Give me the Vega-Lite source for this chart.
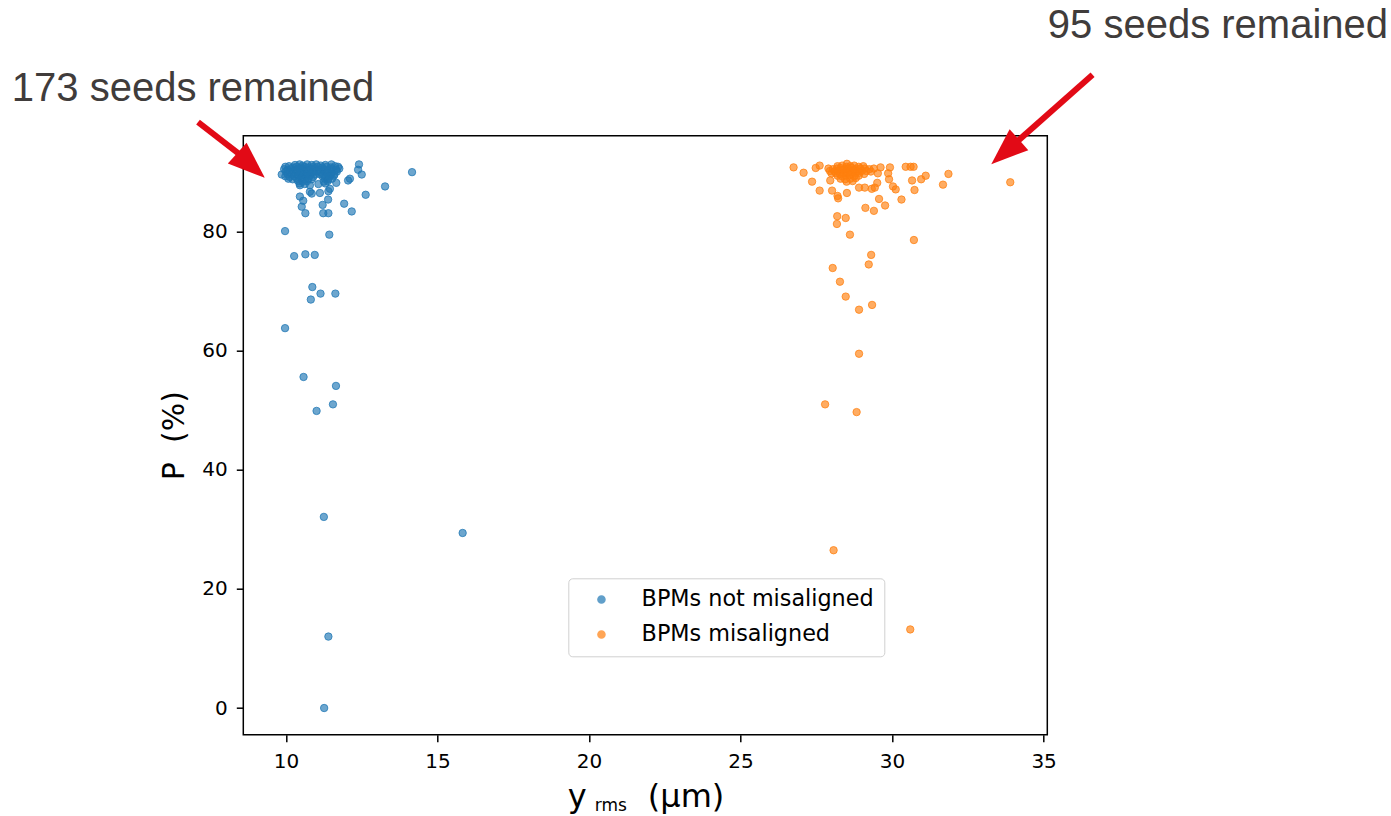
{
  "$schema": "https://vega.github.io/schema/vega-lite/v6.json",
  "width": 804,
  "height": 599,
  "autosize": {"type": "none"},
  "padding": {"left": 243.3, "top": 135.7, "right": 343.7, "bottom": 81.3},
  "background": "white",
  "config": {
    "view": {"stroke": "black", "strokeWidth": 1.5},
    "font": "DejaVu Sans",
    "axis": {
      "grid": false,
      "domain": false,
      "tickColor": "black",
      "tickWidth": 1.5,
      "tickSize": 7,
      "labelColor": "black",
      "labelFont": "DejaVu Sans",
      "labelFontSize": 20,
      "titleColor": "black",
      "titleFont": "DejaVu Sans",
      "titleFontWeight": "normal"
    }
  },
  "data": {"values": [{}]},
  "datasets": {
    "pts": [
      {"yrms": 9.97, "P": 80.1, "series": "BPMs not misaligned"},
      {"yrms": 11.43, "P": 79.5, "series": "BPMs not misaligned"},
      {"yrms": 10.27, "P": 75.9, "series": "BPMs not misaligned"},
      {"yrms": 10.64, "P": 76.2, "series": "BPMs not misaligned"},
      {"yrms": 10.95, "P": 76.1, "series": "BPMs not misaligned"},
      {"yrms": 10.87, "P": 70.7, "series": "BPMs not misaligned"},
      {"yrms": 11.14, "P": 69.6, "series": "BPMs not misaligned"},
      {"yrms": 11.63, "P": 69.6, "series": "BPMs not misaligned"},
      {"yrms": 10.82, "P": 68.6, "series": "BPMs not misaligned"},
      {"yrms": 9.97, "P": 63.8, "series": "BPMs not misaligned"},
      {"yrms": 10.58, "P": 55.6, "series": "BPMs not misaligned"},
      {"yrms": 11.65, "P": 54.1, "series": "BPMs not misaligned"},
      {"yrms": 11.55, "P": 51.0, "series": "BPMs not misaligned"},
      {"yrms": 11.01, "P": 49.9, "series": "BPMs not misaligned"},
      {"yrms": 11.25, "P": 32.1, "series": "BPMs not misaligned"},
      {"yrms": 15.83, "P": 29.4, "series": "BPMs not misaligned"},
      {"yrms": 11.40, "P": 12.0, "series": "BPMs not misaligned"},
      {"yrms": 11.26, "P": 0.0, "series": "BPMs not misaligned"},
      {"yrms": 9.86, "P": 89.6, "series": "BPMs not misaligned"},
      {"yrms": 12.41, "P": 91.3, "series": "BPMs not misaligned"},
      {"yrms": 12.38, "P": 90.4, "series": "BPMs not misaligned"},
      {"yrms": 12.50, "P": 89.6, "series": "BPMs not misaligned"},
      {"yrms": 14.16, "P": 90.0, "series": "BPMs not misaligned"},
      {"yrms": 12.11, "P": 88.9, "series": "BPMs not misaligned"},
      {"yrms": 12.05, "P": 88.6, "series": "BPMs not misaligned"},
      {"yrms": 13.27, "P": 87.6, "series": "BPMs not misaligned"},
      {"yrms": 12.63, "P": 86.2, "series": "BPMs not misaligned"},
      {"yrms": 11.66, "P": 88.2, "series": "BPMs not misaligned"},
      {"yrms": 11.92, "P": 84.7, "series": "BPMs not misaligned"},
      {"yrms": 12.17, "P": 83.4, "series": "BPMs not misaligned"},
      {"yrms": 11.39, "P": 85.4, "series": "BPMs not misaligned"},
      {"yrms": 11.40, "P": 83.1, "series": "BPMs not misaligned"},
      {"yrms": 11.23, "P": 83.1, "series": "BPMs not misaligned"},
      {"yrms": 11.21, "P": 84.5, "series": "BPMs not misaligned"},
      {"yrms": 10.64, "P": 83.1, "series": "BPMs not misaligned"},
      {"yrms": 10.52, "P": 84.2, "series": "BPMs not misaligned"},
      {"yrms": 10.57, "P": 85.2, "series": "BPMs not misaligned"},
      {"yrms": 10.46, "P": 85.9, "series": "BPMs not misaligned"},
      {"yrms": 10.79, "P": 86.7, "series": "BPMs not misaligned"},
      {"yrms": 10.85, "P": 86.4, "series": "BPMs not misaligned"},
      {"yrms": 11.12, "P": 86.5, "series": "BPMs not misaligned"},
      {"yrms": 11.07, "P": 88.0, "series": "BPMs not misaligned"},
      {"yrms": 11.40, "P": 86.8, "series": "BPMs not misaligned"},
      {"yrms": 11.45, "P": 87.2, "series": "BPMs not misaligned"},
      {"yrms": 10.46, "P": 87.8, "series": "BPMs not misaligned"},
      {"yrms": 10.79, "P": 87.8, "series": "BPMs not misaligned"},
      {"yrms": 10.30, "P": 91.2, "series": "BPMs not misaligned"},
      {"yrms": 10.45, "P": 91.3, "series": "BPMs not misaligned"},
      {"yrms": 10.55, "P": 91.1, "series": "BPMs not misaligned"},
      {"yrms": 10.70, "P": 91.3, "series": "BPMs not misaligned"},
      {"yrms": 10.85, "P": 91.2, "series": "BPMs not misaligned"},
      {"yrms": 11.00, "P": 91.3, "series": "BPMs not misaligned"},
      {"yrms": 11.15, "P": 91.1, "series": "BPMs not misaligned"},
      {"yrms": 11.30, "P": 91.2, "series": "BPMs not misaligned"},
      {"yrms": 11.50, "P": 91.3, "series": "BPMs not misaligned"},
      {"yrms": 9.98, "P": 90.9, "series": "BPMs not misaligned"},
      {"yrms": 10.10, "P": 91.0, "series": "BPMs not misaligned"},
      {"yrms": 10.22, "P": 90.8, "series": "BPMs not misaligned"},
      {"yrms": 10.35, "P": 90.9, "series": "BPMs not misaligned"},
      {"yrms": 10.50, "P": 90.8, "series": "BPMs not misaligned"},
      {"yrms": 10.62, "P": 90.9, "series": "BPMs not misaligned"},
      {"yrms": 10.75, "P": 90.8, "series": "BPMs not misaligned"},
      {"yrms": 10.90, "P": 90.9, "series": "BPMs not misaligned"},
      {"yrms": 11.05, "P": 90.9, "series": "BPMs not misaligned"},
      {"yrms": 11.20, "P": 90.8, "series": "BPMs not misaligned"},
      {"yrms": 11.35, "P": 90.9, "series": "BPMs not misaligned"},
      {"yrms": 11.48, "P": 90.8, "series": "BPMs not misaligned"},
      {"yrms": 11.62, "P": 91.0, "series": "BPMs not misaligned"},
      {"yrms": 11.72, "P": 90.9, "series": "BPMs not misaligned"},
      {"yrms": 9.94, "P": 90.5, "series": "BPMs not misaligned"},
      {"yrms": 10.05, "P": 90.4, "series": "BPMs not misaligned"},
      {"yrms": 10.18, "P": 90.5, "series": "BPMs not misaligned"},
      {"yrms": 10.30, "P": 90.4, "series": "BPMs not misaligned"},
      {"yrms": 10.42, "P": 90.6, "series": "BPMs not misaligned"},
      {"yrms": 10.55, "P": 90.5, "series": "BPMs not misaligned"},
      {"yrms": 10.68, "P": 90.4, "series": "BPMs not misaligned"},
      {"yrms": 10.80, "P": 90.5, "series": "BPMs not misaligned"},
      {"yrms": 10.95, "P": 90.6, "series": "BPMs not misaligned"},
      {"yrms": 11.08, "P": 90.4, "series": "BPMs not misaligned"},
      {"yrms": 11.22, "P": 90.5, "series": "BPMs not misaligned"},
      {"yrms": 11.36, "P": 90.4, "series": "BPMs not misaligned"},
      {"yrms": 11.50, "P": 90.5, "series": "BPMs not misaligned"},
      {"yrms": 11.66, "P": 90.4, "series": "BPMs not misaligned"},
      {"yrms": 11.76, "P": 90.6, "series": "BPMs not misaligned"},
      {"yrms": 10.00, "P": 90.1, "series": "BPMs not misaligned"},
      {"yrms": 10.12, "P": 90.0, "series": "BPMs not misaligned"},
      {"yrms": 10.25, "P": 90.1, "series": "BPMs not misaligned"},
      {"yrms": 10.38, "P": 90.2, "series": "BPMs not misaligned"},
      {"yrms": 10.50, "P": 90.0, "series": "BPMs not misaligned"},
      {"yrms": 10.62, "P": 90.1, "series": "BPMs not misaligned"},
      {"yrms": 10.75, "P": 90.2, "series": "BPMs not misaligned"},
      {"yrms": 10.88, "P": 90.0, "series": "BPMs not misaligned"},
      {"yrms": 11.00, "P": 90.1, "series": "BPMs not misaligned"},
      {"yrms": 11.12, "P": 90.0, "series": "BPMs not misaligned"},
      {"yrms": 11.25, "P": 90.2, "series": "BPMs not misaligned"},
      {"yrms": 11.38, "P": 90.1, "series": "BPMs not misaligned"},
      {"yrms": 11.52, "P": 90.0, "series": "BPMs not misaligned"},
      {"yrms": 11.68, "P": 90.1, "series": "BPMs not misaligned"},
      {"yrms": 10.05, "P": 89.7, "series": "BPMs not misaligned"},
      {"yrms": 10.20, "P": 89.6, "series": "BPMs not misaligned"},
      {"yrms": 10.33, "P": 89.7, "series": "BPMs not misaligned"},
      {"yrms": 10.45, "P": 89.8, "series": "BPMs not misaligned"},
      {"yrms": 10.58, "P": 89.6, "series": "BPMs not misaligned"},
      {"yrms": 10.70, "P": 89.7, "series": "BPMs not misaligned"},
      {"yrms": 10.82, "P": 89.8, "series": "BPMs not misaligned"},
      {"yrms": 10.95, "P": 89.6, "series": "BPMs not misaligned"},
      {"yrms": 11.10, "P": 89.7, "series": "BPMs not misaligned"},
      {"yrms": 11.22, "P": 89.6, "series": "BPMs not misaligned"},
      {"yrms": 11.35, "P": 89.8, "series": "BPMs not misaligned"},
      {"yrms": 11.48, "P": 89.7, "series": "BPMs not misaligned"},
      {"yrms": 11.60, "P": 89.6, "series": "BPMs not misaligned"},
      {"yrms": 9.98, "P": 89.3, "series": "BPMs not misaligned"},
      {"yrms": 10.12, "P": 89.2, "series": "BPMs not misaligned"},
      {"yrms": 10.28, "P": 89.3, "series": "BPMs not misaligned"},
      {"yrms": 10.40, "P": 89.4, "series": "BPMs not misaligned"},
      {"yrms": 10.52, "P": 89.2, "series": "BPMs not misaligned"},
      {"yrms": 10.65, "P": 89.3, "series": "BPMs not misaligned"},
      {"yrms": 10.78, "P": 89.4, "series": "BPMs not misaligned"},
      {"yrms": 10.90, "P": 89.2, "series": "BPMs not misaligned"},
      {"yrms": 11.20, "P": 89.3, "series": "BPMs not misaligned"},
      {"yrms": 11.32, "P": 89.2, "series": "BPMs not misaligned"},
      {"yrms": 11.45, "P": 89.3, "series": "BPMs not misaligned"},
      {"yrms": 11.58, "P": 89.4, "series": "BPMs not misaligned"},
      {"yrms": 10.08, "P": 88.9, "series": "BPMs not misaligned"},
      {"yrms": 10.22, "P": 88.8, "series": "BPMs not misaligned"},
      {"yrms": 10.36, "P": 88.9, "series": "BPMs not misaligned"},
      {"yrms": 10.50, "P": 89.0, "series": "BPMs not misaligned"},
      {"yrms": 10.62, "P": 88.8, "series": "BPMs not misaligned"},
      {"yrms": 10.74, "P": 88.9, "series": "BPMs not misaligned"},
      {"yrms": 10.85, "P": 88.8, "series": "BPMs not misaligned"},
      {"yrms": 11.28, "P": 88.9, "series": "BPMs not misaligned"},
      {"yrms": 11.40, "P": 88.8, "series": "BPMs not misaligned"},
      {"yrms": 11.52, "P": 88.9, "series": "BPMs not misaligned"},
      {"yrms": 10.40, "P": 88.5, "series": "BPMs not misaligned"},
      {"yrms": 10.55, "P": 88.4, "series": "BPMs not misaligned"},
      {"yrms": 10.70, "P": 88.5, "series": "BPMs not misaligned"},
      {"yrms": 11.25, "P": 88.4, "series": "BPMs not misaligned"},
      {"yrms": 11.38, "P": 88.5, "series": "BPMs not misaligned"},
      {"yrms": 10.45, "P": 88.1, "series": "BPMs not misaligned"},
      {"yrms": 10.62, "P": 88.0, "series": "BPMs not misaligned"},
      {"yrms": 11.30, "P": 88.1, "series": "BPMs not misaligned"},

      {"yrms": 26.75, "P": 90.8, "series": "BPMs misaligned"},
      {"yrms": 27.08, "P": 89.9, "series": "BPMs misaligned"},
      {"yrms": 27.36, "P": 88.4, "series": "BPMs misaligned"},
      {"yrms": 27.61, "P": 86.9, "series": "BPMs misaligned"},
      {"yrms": 27.48, "P": 90.7, "series": "BPMs misaligned"},
      {"yrms": 27.61, "P": 91.1, "series": "BPMs misaligned"},
      {"yrms": 28.02, "P": 86.9, "series": "BPMs misaligned"},
      {"yrms": 28.20, "P": 86.0, "series": "BPMs misaligned"},
      {"yrms": 28.22, "P": 85.6, "series": "BPMs misaligned"},
      {"yrms": 28.51, "P": 86.5, "series": "BPMs misaligned"},
      {"yrms": 27.96, "P": 88.6, "series": "BPMs misaligned"},
      {"yrms": 28.00, "P": 89.8, "series": "BPMs misaligned"},
      {"yrms": 28.51, "P": 91.4, "series": "BPMs misaligned"},
      {"yrms": 28.91, "P": 87.4, "series": "BPMs misaligned"},
      {"yrms": 29.10, "P": 87.4, "series": "BPMs misaligned"},
      {"yrms": 29.33, "P": 87.2, "series": "BPMs misaligned"},
      {"yrms": 29.43, "P": 87.4, "series": "BPMs misaligned"},
      {"yrms": 29.51, "P": 88.2, "series": "BPMs misaligned"},
      {"yrms": 29.57, "P": 85.5, "series": "BPMs misaligned"},
      {"yrms": 29.77, "P": 84.4, "series": "BPMs misaligned"},
      {"yrms": 29.12, "P": 84.0, "series": "BPMs misaligned"},
      {"yrms": 29.40, "P": 83.5, "series": "BPMs misaligned"},
      {"yrms": 30.31, "P": 85.4, "series": "BPMs misaligned"},
      {"yrms": 29.53, "P": 89.8, "series": "BPMs misaligned"},
      {"yrms": 29.62, "P": 90.8, "series": "BPMs misaligned"},
      {"yrms": 29.93, "P": 90.8, "series": "BPMs misaligned"},
      {"yrms": 29.87, "P": 89.8, "series": "BPMs misaligned"},
      {"yrms": 29.90, "P": 88.8, "series": "BPMs misaligned"},
      {"yrms": 30.03, "P": 87.6, "series": "BPMs misaligned"},
      {"yrms": 30.12, "P": 87.1, "series": "BPMs misaligned"},
      {"yrms": 30.45, "P": 90.9, "series": "BPMs misaligned"},
      {"yrms": 30.61, "P": 90.9, "series": "BPMs misaligned"},
      {"yrms": 30.71, "P": 90.9, "series": "BPMs misaligned"},
      {"yrms": 30.66, "P": 88.6, "series": "BPMs misaligned"},
      {"yrms": 30.74, "P": 87.0, "series": "BPMs misaligned"},
      {"yrms": 30.96, "P": 88.8, "series": "BPMs misaligned"},
      {"yrms": 31.11, "P": 89.4, "series": "BPMs misaligned"},
      {"yrms": 31.68, "P": 87.9, "series": "BPMs misaligned"},
      {"yrms": 31.86, "P": 89.7, "series": "BPMs misaligned"},
      {"yrms": 33.90, "P": 88.3, "series": "BPMs misaligned"},
      {"yrms": 28.19, "P": 82.6, "series": "BPMs misaligned"},
      {"yrms": 28.47, "P": 82.3, "series": "BPMs misaligned"},
      {"yrms": 28.18, "P": 81.3, "series": "BPMs misaligned"},
      {"yrms": 28.61, "P": 79.5, "series": "BPMs misaligned"},
      {"yrms": 30.72, "P": 78.6, "series": "BPMs misaligned"},
      {"yrms": 29.31, "P": 76.1, "series": "BPMs misaligned"},
      {"yrms": 29.23, "P": 74.5, "series": "BPMs misaligned"},
      {"yrms": 28.04, "P": 73.9, "series": "BPMs misaligned"},
      {"yrms": 28.28, "P": 71.6, "series": "BPMs misaligned"},
      {"yrms": 28.47, "P": 69.1, "series": "BPMs misaligned"},
      {"yrms": 29.34, "P": 67.7, "series": "BPMs misaligned"},
      {"yrms": 28.91, "P": 66.9, "series": "BPMs misaligned"},
      {"yrms": 28.91, "P": 59.5, "series": "BPMs misaligned"},
      {"yrms": 27.79, "P": 51.0, "series": "BPMs misaligned"},
      {"yrms": 28.83, "P": 49.7, "series": "BPMs misaligned"},
      {"yrms": 28.07, "P": 26.5, "series": "BPMs misaligned"},
      {"yrms": 30.60, "P": 13.2, "series": "BPMs misaligned"},
      {"yrms": 28.20, "P": 91.0, "series": "BPMs misaligned"},
      {"yrms": 28.35, "P": 91.1, "series": "BPMs misaligned"},
      {"yrms": 28.50, "P": 90.9, "series": "BPMs misaligned"},
      {"yrms": 28.62, "P": 91.0, "series": "BPMs misaligned"},
      {"yrms": 28.75, "P": 91.1, "series": "BPMs misaligned"},
      {"yrms": 28.90, "P": 90.9, "series": "BPMs misaligned"},
      {"yrms": 29.05, "P": 91.0, "series": "BPMs misaligned"},
      {"yrms": 27.90, "P": 90.6, "series": "BPMs misaligned"},
      {"yrms": 28.05, "P": 90.5, "series": "BPMs misaligned"},
      {"yrms": 28.18, "P": 90.6, "series": "BPMs misaligned"},
      {"yrms": 28.30, "P": 90.7, "series": "BPMs misaligned"},
      {"yrms": 28.42, "P": 90.5, "series": "BPMs misaligned"},
      {"yrms": 28.55, "P": 90.6, "series": "BPMs misaligned"},
      {"yrms": 28.68, "P": 90.7, "series": "BPMs misaligned"},
      {"yrms": 28.80, "P": 90.5, "series": "BPMs misaligned"},
      {"yrms": 28.95, "P": 90.6, "series": "BPMs misaligned"},
      {"yrms": 29.10, "P": 90.6, "series": "BPMs misaligned"},
      {"yrms": 29.25, "P": 90.5, "series": "BPMs misaligned"},
      {"yrms": 29.40, "P": 90.6, "series": "BPMs misaligned"},
      {"yrms": 27.95, "P": 90.2, "series": "BPMs misaligned"},
      {"yrms": 28.10, "P": 90.1, "series": "BPMs misaligned"},
      {"yrms": 28.22, "P": 90.2, "series": "BPMs misaligned"},
      {"yrms": 28.35, "P": 90.3, "series": "BPMs misaligned"},
      {"yrms": 28.48, "P": 90.1, "series": "BPMs misaligned"},
      {"yrms": 28.60, "P": 90.2, "series": "BPMs misaligned"},
      {"yrms": 28.72, "P": 90.3, "series": "BPMs misaligned"},
      {"yrms": 28.85, "P": 90.1, "series": "BPMs misaligned"},
      {"yrms": 29.00, "P": 90.2, "series": "BPMs misaligned"},
      {"yrms": 29.15, "P": 90.2, "series": "BPMs misaligned"},
      {"yrms": 29.30, "P": 90.1, "series": "BPMs misaligned"},
      {"yrms": 28.15, "P": 89.8, "series": "BPMs misaligned"},
      {"yrms": 28.28, "P": 89.7, "series": "BPMs misaligned"},
      {"yrms": 28.40, "P": 89.8, "series": "BPMs misaligned"},
      {"yrms": 28.52, "P": 89.9, "series": "BPMs misaligned"},
      {"yrms": 28.65, "P": 89.7, "series": "BPMs misaligned"},
      {"yrms": 28.78, "P": 89.8, "series": "BPMs misaligned"},
      {"yrms": 28.92, "P": 89.9, "series": "BPMs misaligned"},
      {"yrms": 29.08, "P": 89.7, "series": "BPMs misaligned"},
      {"yrms": 28.20, "P": 89.4, "series": "BPMs misaligned"},
      {"yrms": 28.35, "P": 89.3, "series": "BPMs misaligned"},
      {"yrms": 28.48, "P": 89.4, "series": "BPMs misaligned"},
      {"yrms": 28.60, "P": 89.5, "series": "BPMs misaligned"},
      {"yrms": 28.75, "P": 89.3, "series": "BPMs misaligned"},
      {"yrms": 28.90, "P": 89.4, "series": "BPMs misaligned"},
      {"yrms": 28.30, "P": 88.9, "series": "BPMs misaligned"},
      {"yrms": 28.45, "P": 88.8, "series": "BPMs misaligned"},
      {"yrms": 28.62, "P": 88.9, "series": "BPMs misaligned"},
      {"yrms": 28.80, "P": 89.0, "series": "BPMs misaligned"},
      {"yrms": 28.50, "P": 88.4, "series": "BPMs misaligned"},
      {"yrms": 28.70, "P": 88.5, "series": "BPMs misaligned"}
    ]
  },
  "layer": [
    {
      "data": {"name": "pts"},
      "mark": {"type": "point", "filled": true, "opacity": 1, "fillOpacity": 0.65, "strokeOpacity": 0.75, "strokeWidth": 1, "size": 55},
      "encoding": {
        "x": {
          "field": "yrms", "type": "quantitative",
          "scale": {"domain": [8.592, 35.122], "nice": false, "zero": false},
          "axis": {"values": [10, 15, 20, 25, 30, 35], "title": null, "labelPadding": 10}
        },
        "y": {
          "field": "P", "type": "quantitative",
          "scale": {"domain": [-4.48, 96.12], "nice": false, "zero": false},
          "axis": {"values": [0, 20, 40, 60, 80], "title": "P\u00a0\u00a0(%)", "titleFontSize": 30, "titleX": -60, "titleBaseline": "alphabetic", "labelPadding": 9}
        },
        "color": {
          "field": "series", "type": "nominal",
          "scale": {"domain": ["BPMs not misaligned", "BPMs misaligned"], "range": ["#1f77b4", "#ff7f0e"]},
          "legend": {
            "orient": "none", "legendX": 325, "legendY": 442.6, "title": null,
            "padding": 10, "symbolOffset": 12, "labelOffset": 29, "rowPadding": 12,
            "strokeColor": "#d0d0d0", "fillColor": "white", "cornerRadius": 4,
            "labelFont": "DejaVu Sans", "labelFontSize": 22.3, "labelColor": "black", "labelLimit": 500,
            "symbolSize": 50, "symbolType": "circle", "symbolOpacity": 0.7
          }
        },
        "stroke": {
          "field": "series", "type": "nominal",
          "scale": {"domain": ["BPMs not misaligned", "BPMs misaligned"], "range": ["#1f77b4", "#ff7f0e"]},
          "legend": null
        }
      }
    },
    {
      "mark": {"type": "text", "font": "Liberation Sans", "fontSize": 40, "color": "#403c3b", "align": "left", "baseline": "alphabetic"},
      "encoding": {"x": {"datum": 0.953}, "y": {"datum": 102.0}, "text": {"value": "173 seeds remained"}}
    },
    {
      "mark": {"type": "text", "font": "Liberation Sans", "fontSize": 40, "color": "#403c3b", "align": "left", "baseline": "alphabetic"},
      "encoding": {"x": {"datum": 35.14}, "y": {"datum": 112.47}, "text": {"value": "95 seeds remained"}}
    },
    {
      "mark": {"type": "rule", "color": "#e20a16", "strokeWidth": 6, "strokeCap": "butt"},
      "encoding": {"x": {"datum": 7.098}, "y": {"datum": 98.42}, "x2": {"datum": 8.483}, "y2": {"datum": 92.95}}
    },
    {
      "mark": {"type": "rule", "color": "#e20a16", "strokeWidth": 6, "strokeCap": "butt"},
      "encoding": {"x": {"datum": 36.616}, "y": {"datum": 106.35}, "x2": {"datum": 34.076}, "y2": {"datum": 94.9}}
    },
    {
      "mark": {"type": "point", "shape": "M0,-1L-0.76,1L0.76,1Z", "filled": true, "opacity": 1, "color": "#e20a16", "size": 1369, "angle": 131.8, "strokeWidth": 0},
      "encoding": {"x": {"datum": 8.846}, "y": {"datum": 91.12}}
    },
    {
      "mark": {"type": "point", "shape": "M0,-1L-0.76,1L0.76,1Z", "filled": true, "opacity": 1, "color": "#e20a16", "size": 1369, "angle": 228.4, "strokeWidth": 0},
      "encoding": {"x": {"datum": 33.73}, "y": {"datum": 93.39}}
    },
    {
      "mark": {"type": "text", "font": "DejaVu Sans", "fontSize": 32, "color": "black", "align": "left", "baseline": "alphabetic"},
      "encoding": {"x": {"datum": 19.30}, "y": {"datum": -16.62}, "text": {"value": "y"}}
    },
    {
      "mark": {"type": "text", "font": "DejaVu Sans", "fontSize": 17, "color": "black", "align": "left", "baseline": "alphabetic"},
      "encoding": {"x": {"datum": 20.19}, "y": {"datum": -17.36}, "text": {"value": "rms"}}
    },
    {
      "mark": {"type": "text", "font": "DejaVu Sans", "fontSize": 32, "color": "black", "align": "left", "baseline": "alphabetic"},
      "encoding": {"x": {"datum": 21.94}, "y": {"datum": -16.62}, "text": {"value": "(µm)"}}
    }
  ]
}
